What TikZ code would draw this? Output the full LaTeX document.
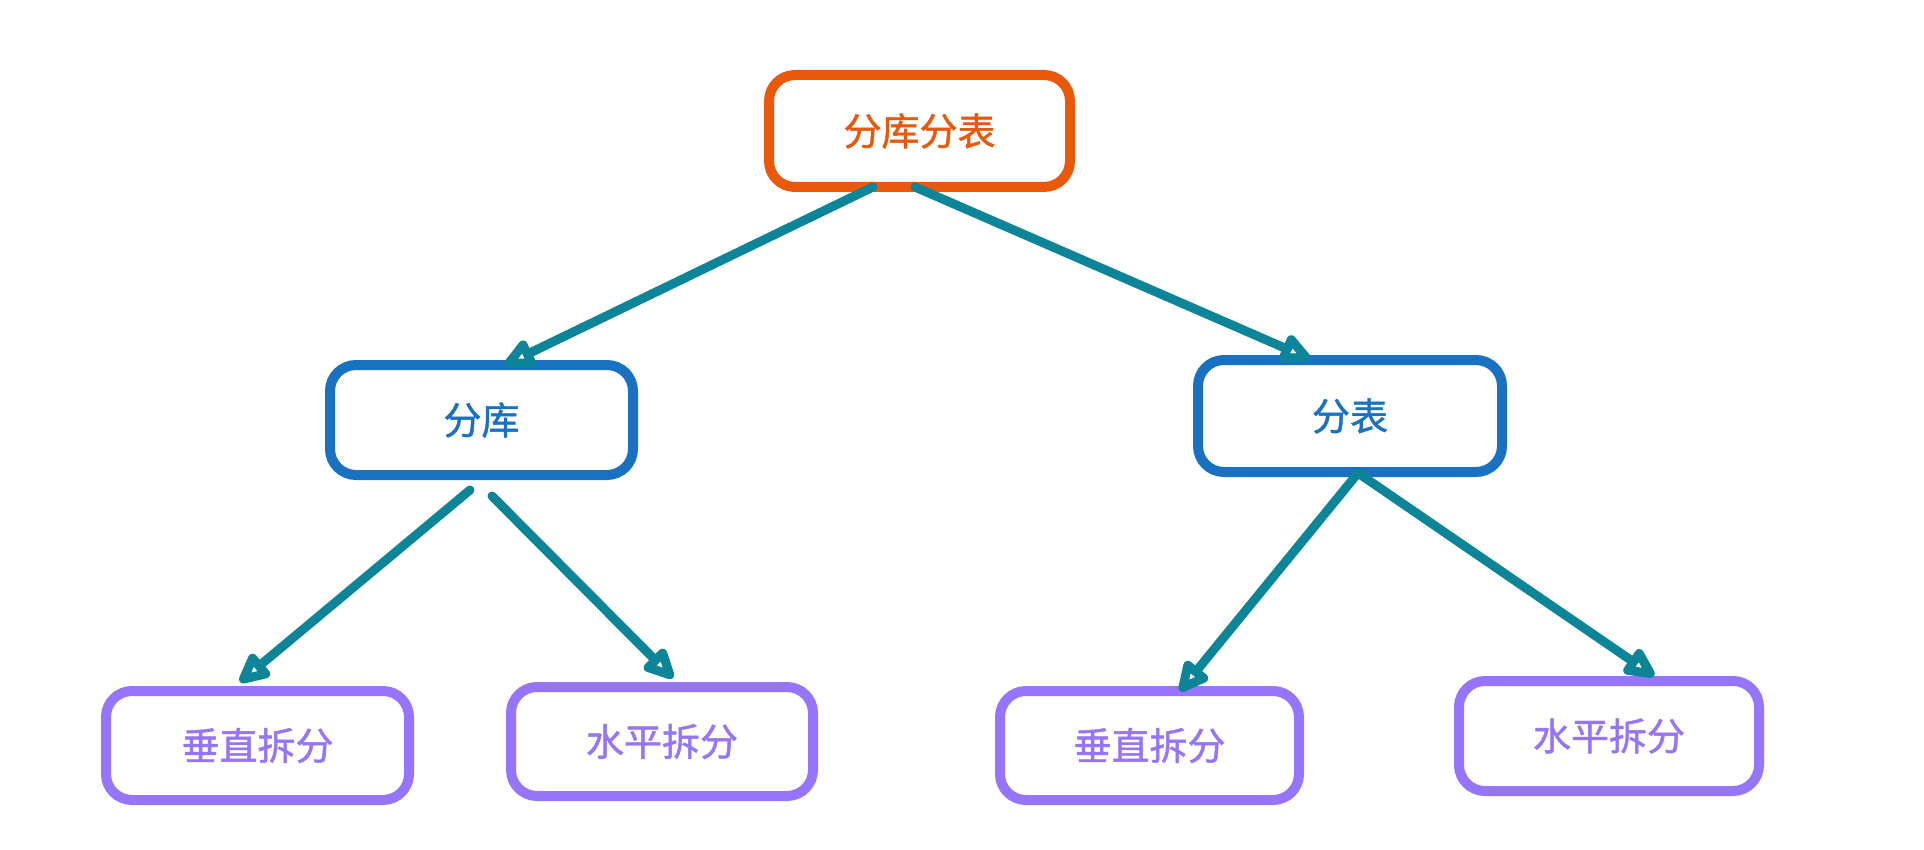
\documentclass[tikz,border=0pt]{standalone}
\usepackage{fontspec}
\newfontfamily\cjk[FakeBold=1.2]{Noto Sans CJK SC}
\usetikzlibrary{arrows.meta,calc}
\definecolor{cOrange}{HTML}{E8590C}
\definecolor{cBlue}{HTML}{1971C2}
\definecolor{cViolet}{HTML}{9775FA}
\definecolor{cTeal}{HTML}{0C8599}
\begin{document}
\begin{tikzpicture}[x=1pt,y=-1pt,
  box/.style={draw=#1, text=#1, line width=10pt, rounded corners=26pt, fill=white,
    inner sep=0pt, outer sep=0pt, font=\cjk\fontsize{38}{44}\selectfont},
  arr/.style={draw=cTeal, line width=9pt, line cap=round,
    -{Triangle[open,length=36pt,width=32pt,round]}}]
\fill[white] (0,0) rectangle (1924,850);
\useasboundingbox (0,0) rectangle (1924,850);
\node[box=cOrange, minimum width=301pt, minimum height=112pt] (top) at (919.5,131) {分库分表};
\node[box=cBlue, minimum width=303pt, minimum height=110pt] (ku) at (481.5,420) {分库};
\node[box=cBlue, minimum width=304pt, minimum height=112pt] (biao) at (1350,416) {分表};
\node[box=cViolet, minimum width=303pt, minimum height=109pt] (b1) at (257.5,745.5) {垂直拆分};
\node[box=cViolet, minimum width=302pt, minimum height=109pt] (b2) at (662,741.5) {水平拆分};
\node[box=cViolet, minimum width=299pt, minimum height=109pt] (b3) at (1149.5,745.5) {垂直拆分};
\node[box=cViolet, minimum width=300pt, minimum height=110pt] (b4) at (1609,736) {水平拆分};
\draw[arr] ($(top.south)+(-46.5,0)$) -- ($(ku.north)+(23.5,0)$);
\draw[arr] ($(top.south)+(-4.5,0)$) -- ($(biao.north)+(-40,-1)$);
\draw[arr] ($(ku.south)+(-11.5,15)$) -- ($(b1.north)+(-17.5,-9)$);
\draw[arr] ($(ku.south)+(10.5,21)$) -- ($(b2.north)+(11,-9)$);
\draw[arr] ($(biao.south)+(8,1)$) -- ($(b3.north)+(30.5,0)$);
\draw[arr] ($(biao.south)+(8,1)$) -- ($(b4.north)+(45,-5)$);
\end{tikzpicture}
\end{document}
